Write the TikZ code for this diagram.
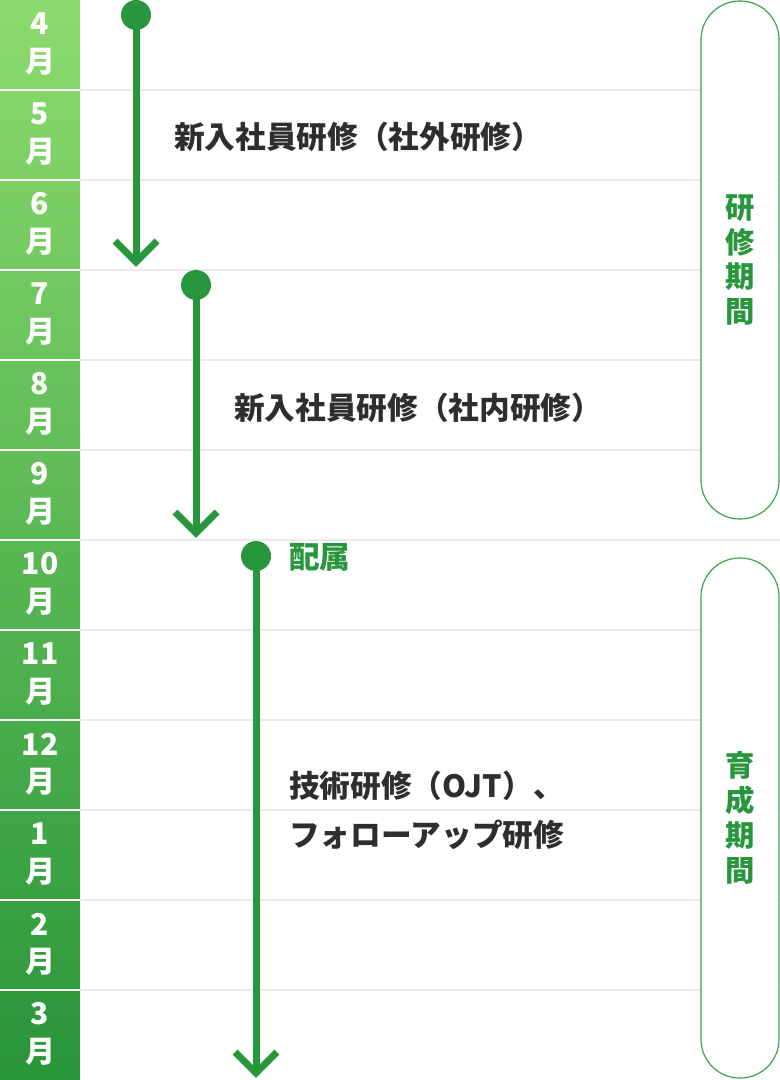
\documentclass[tikz,border=0pt]{standalone}
\usepackage{fontspec}
\setmainfont{Noto Sans CJK JP}
\usetikzlibrary{calc}
\definecolor{grn}{HTML}{28963C}
\definecolor{gtop}{HTML}{8CDB6E}
\definecolor{gbot}{HTML}{289539}
\definecolor{rulecol}{HTML}{EBEBEB}
\definecolor{txt}{HTML}{2E2E2E}
\definecolor{pillline}{HTML}{3DA34B}
\begin{document}
\begin{tikzpicture}[x=0.75pt,y=-0.75pt,
  pill/.style={draw=pillline, line width=0.9pt, fill=white, rounded corners=29pt,
    minimum width=58.5pt, inner sep=0pt, text=grn, align=center,
    font=\fontsize{22}{26.2}\selectfont\bfseries},
  dot/.style={circle, fill=grn, inner sep=0pt, minimum size=22.5pt},
  shaft/.style={draw=grn, line width=5.25pt},
  chev/.style={draw=grn, line width=5.25pt, miter limit=10},
  lbl/.style={anchor=west, inner sep=0pt, text=txt, font=\fontsize{23}{28}\selectfont\bfseries},
  mon/.style={text=white, inner sep=0pt, font=\fontsize{22.5}{26}\selectfont\bfseries}]
\useasboundingbox (0,0) rectangle (780,1080);
\fill[white] (0,0) rectangle (780,1080);
\shade[top color=gtop,bottom color=gbot] (0,0) rectangle (80,1080);
\foreach \k in {1,...,11} {
  \draw[white, line width=1.5pt] (0,90*\k) -- (80,90*\k);
  \draw[rulecol, line width=1.5pt] (80,90*\k) -- (780,90*\k);
}
\foreach \m [count=\i from 0] in {4,5,6,7,8,9,10,11,12,1,2,3} {
  \node[mon] (n\i) at (40,90*\i+24) {\m};
  \node[mon] (y\i) at (40,90*\i+62) {月};
}
\node[pill, minimum height=388.5pt] (p1) at (740,260) {研\\修\\期\\間};
\node[pill, minimum height=390pt] (p2) at (740,818) {育\\成\\期\\間};
% arrow 1
\node[dot] (s1) at (136,15) {};
\coordinate (e1) at (136,262);
\draw[shaft] (s1.center) -- (e1);
\draw[chev] ($(e1)+(-21,-21)$) -- (e1) -- ($(e1)+(21,-21)$);
% arrow 2
\node[dot] (s2) at (196,285) {};
\coordinate (e2) at (196,533);
\draw[shaft] (s2.center) -- (e2);
\draw[chev] ($(e2)+(-21,-21)$) -- (e2) -- ($(e2)+(21,-21)$);
% arrow 3
\node[dot] (s3) at (256,556) {};
\coordinate (e3) at (256,1073);
\draw[shaft] (s3.center) -- (e3);
\draw[chev] ($(e3)+(-21,-21)$) -- (e3) -- ($(e3)+(21,-21)$);
% labels
\node[lbl] (t1) at (174,137) {新入社員研修（社外研修）};
\node[lbl] (t2) at (234,408) {新入社員研修（社内研修）};
\node[lbl, text=grn] (t3) at (289,557) {配属};
\node[lbl] (t4) at (289,786) {技術研修（OJT）、};
\node[lbl] (t5) at (289,835) {フォローアップ研修};
\end{tikzpicture}
\end{document}
